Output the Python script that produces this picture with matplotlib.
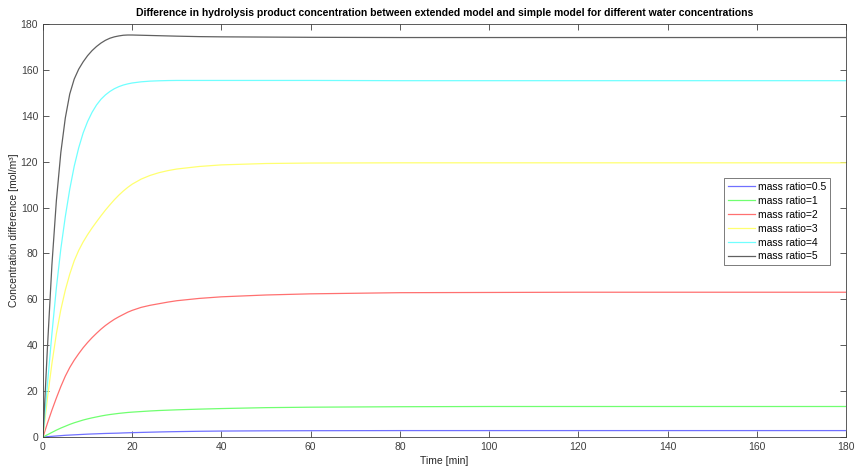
"""Difference in hydrolysis product concentration, extended vs simple model"""
import matplotlib
matplotlib.use("Agg")
import matplotlib.pyplot as plt

plt.rcParams['font.family'] = ['Liberation Sans', 'DejaVu Sans']

# time samples [min] and concentration differences
time_min = [0, 1, 2, 3, 4, 5, 6, 7, 8, 9, 10, 11, 12, 13, 14, 15, 16, 17, 18,
            19, 20, 22, 24, 26, 28, 30, 35, 40, 50, 60,
            80, 100, 120, 140, 160, 180]

ratio_05 = [0, 0.15, 0.3, 0.45, 0.6, 0.75, 0.85, 0.95, 1.05, 1.15, 1.25,
            1.33, 1.4, 1.48, 1.55, 1.6, 1.65, 1.7, 1.78, 1.84, 1.9,
            2.0, 2.1, 2.2, 2.28, 2.35, 2.5, 2.6, 2.7, 2.75,
            2.8, 2.8, 2.8, 2.8, 2.8, 2.8]
ratio_1 = [0, 1.0, 2.0, 3.0, 3.9, 4.7, 5.5, 6.2, 6.8, 7.4, 7.9,
           8.35, 8.75, 9.15, 9.5, 9.8, 10.05, 10.3, 10.5, 10.7, 10.85,
           11.1, 11.35, 11.55, 11.7, 11.85, 12.15, 12.4, 12.8, 13.0,
           13.2, 13.3, 13.3, 13.3, 13.3, 13.3]
ratio_2 = [0, 6.0, 11.7, 17.0, 22.0, 26.5, 30.3, 33.5, 36.3, 38.9, 41.2,
           43.3, 45.2, 47.0, 48.6, 50.0, 51.3, 52.4, 53.4, 54.4, 55.2,
           56.5, 57.4, 58.1, 58.8, 59.4, 60.4, 61.1, 61.9, 62.4,
           62.9, 63.0, 63.1, 63.1, 63.1, 63.1]
ratio_3 = [0, 17, 32, 45, 55.5, 64, 71, 76.8, 81.3, 85, 88.2,
           91.1, 93.8, 96.4, 98.9, 101.2, 103.4, 105.4, 107.2, 108.8, 110.2,
           112.4, 114, 115.2, 116.1, 116.8, 117.9, 118.6, 119.2, 119.4,
           119.5, 119.5, 119.5, 119.5, 119.5, 119.5]
ratio_4 = [0, 23, 45, 65, 82, 96, 108, 118, 126, 132.5, 137.5,
           141.5, 144.7, 147.2, 149.1, 150.6, 151.8, 152.7, 153.4, 153.9, 154.3,
           154.8, 155.1, 155.25, 155.35, 155.4, 155.4, 155.4, 155.4, 155.4,
           155.3, 155.3, 155.3, 155.3, 155.3, 155.3]
ratio_5 = [0, 39, 75, 103, 124, 139, 149.5, 156, 160.3, 163.5, 166.2,
           168.4, 170.2, 171.7, 172.9, 173.8, 174.4, 174.8, 175.1, 175.2, 175.2,
           175.1, 175.0, 174.9, 174.8, 174.7, 174.5, 174.4, 174.3, 174.2,
           174.1, 174.1, 174.1, 174.1, 174.1, 174.1]

series = [ratio_05, ratio_1, ratio_2, ratio_3, ratio_4, ratio_5]
labels = ['mass ratio=0.5', 'mass ratio=1', 'mass ratio=2', 'mass ratio=3',
          'mass ratio=4', 'mass ratio=5']
colors = ['#7070ff', '#70ff70', '#ff7070', '#ffff70', '#70ffff', '#606060']

fig = plt.figure(figsize=(8.58, 4.66), dpi=100)
ax = fig.add_axes([0.0501, 0.0622, 0.9359, 0.8863])

for vals, lab, col in zip(series, labels, colors):
    ax.plot(time_min, vals, color=col, linewidth=0.9, label=lab)

ax.set_xlim(0, 180)
ax.set_ylim(0, 180)
ax.set_xticks(range(0, 181, 20))
ax.set_yticks(range(0, 181, 20))
ax.tick_params(direction='in', top=True, right=True, labelsize=7.5,
               colors='#404040', length=4, width=0.6)
for sp in ax.spines.values():
    sp.set_color('#404040')
    sp.set_linewidth(0.6)

ax.set_xlabel('Time [min]', fontsize=7.5, color='#262626', labelpad=3)
ax.set_ylabel('Concentration difference [mol/m³]', fontsize=7.5,
              color='#262626', labelpad=1)
ax.set_title('Difference in hydrolysis product concentration between extended '
             'model and simple model for different water concentrations',
             fontsize=7.5, fontweight='bold', pad=6)

leg = ax.legend(loc='upper left', bbox_to_anchor=(0.848, 0.627),
                fontsize=7.5, frameon=True, fancybox=False, handlelength=2.6,
                borderpad=0.35, labelspacing=0.38, borderaxespad=0,
                handletextpad=0.3)
leg.get_frame().set_edgecolor('#404040')
leg.get_frame().set_linewidth(0.6)

fig.savefig('out.png', dpi=100)
